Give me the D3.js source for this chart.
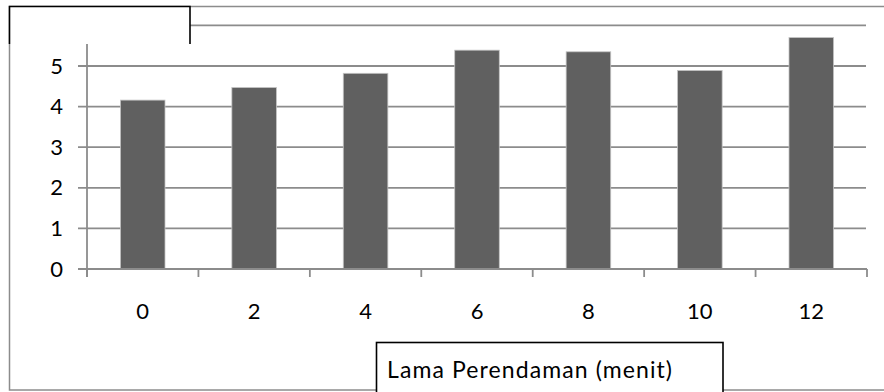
<!DOCTYPE html>
<html>
<head>
<meta charset="utf-8">
<script src="https://cdn.jsdelivr.net/npm/d3@7"></script>
<style>
  html, body { margin: 0; padding: 0; background: #fff; }
  svg { display: block; }
  text { font-family: Lato, "Open Sans", sans-serif; fill: #000; }
</style>
</head>
<body>
<svg id="chart" width="884" height="392"></svg>
<script>
// Soaking time (minutes) and measured values
const categories = ["0", "2", "4", "6", "8", "10", "12"];
const values = [4.16, 4.47, 4.82, 5.39, 5.35, 4.89, 5.70];
const yTicks = [0, 1, 2, 3, 4, 5, 6];
const xTitle = "Lama Perendaman (menit)";

const svg = d3.select("#chart");
const W = 884, H = 392;

// plot frame
const plot = { left: 87, right: 867, top: 25.4, bottom: 269 };

const y = d3.scaleLinear().domain([0, 6]).range([plot.bottom, plot.top]);
const xSlot = d3.scaleBand().domain(categories).range([plot.left, plot.right]).padding(0);

// outer chart border
svg.append("rect")
  .attr("x", 9.5).attr("y", 6.5)
  .attr("width", W).attr("height", 383.5)
  .attr("fill", "#fff")
  .attr("stroke", "#8c8c8c").attr("stroke-width", 1.5);

// horizontal gridlines (with the small left tick)
svg.append("g").selectAll("line")
  .data(yTicks.filter(d => d > 0))
  .join("line")
  .attr("x1", plot.left - 9).attr("x2", plot.right - 1)
  .attr("y1", d => y(d)).attr("y2", d => y(d))
  .attr("stroke", "#8c8c8c").attr("stroke-width", 1.8);

// bars
svg.append("g").selectAll("rect")
  .data(values)
  .join("rect")
  .attr("x", (d, i) => xSlot(categories[i]) + xSlot.bandwidth() * 0.3)
  .attr("width", xSlot.bandwidth() * 0.4)
  .attr("y", d => y(d))
  .attr("height", d => y(0) - y(d))
  .attr("fill", "#606060")
  .attr("stroke", "#c4c4c4").attr("stroke-width", 0.8);

// y axis: line, ticks, labels
const yAxis = svg.append("g")
  .attr("transform", `translate(${plot.left},0)`)
  .call(d3.axisLeft(y).tickValues(yTicks).tickSize(0).tickPadding(24).tickFormat(d3.format("d")));
yAxis.select(".domain").remove();
yAxis.selectAll("text").style("font-size", "22px").style("font-family", "Lato, sans-serif");

svg.append("line")
  .attr("x1", plot.left).attr("x2", plot.left)
  .attr("y1", y(6)).attr("y2", y(0) + 8)
  .attr("stroke", "#8c8c8c").attr("stroke-width", 1.8);
svg.append("line")
  .attr("x1", plot.left - 9).attr("x2", plot.right)
  .attr("y1", y(0)).attr("y2", y(0))
  .attr("stroke", "#8c8c8c").attr("stroke-width", 1.8);

// x axis: ticks at slot boundaries, labels at slot centres
const bounds = categories.map(c => xSlot(c)).concat([plot.right]);
svg.append("g").selectAll("line")
  .data(bounds)
  .join("line")
  .attr("x1", d => d).attr("x2", d => d)
  .attr("y1", y(0)).attr("y2", y(0) + 8)
  .attr("stroke", "#8c8c8c").attr("stroke-width", 1.8);

const xAxis = svg.append("g")
  .attr("transform", `translate(0,${plot.bottom})`)
  .call(d3.axisBottom(xSlot).tickSize(0).tickPadding(34.4));
xAxis.select(".domain").remove();
xAxis.selectAll("text").style("font-size", "22px").style("font-family", "Lato, sans-serif");

// top-left overlay box
svg.append("rect")
  .attr("x", 9.5).attr("y", 6.5).attr("width", 180.5).attr("height", 37.5)
  .attr("fill", "#fff");
svg.append("path")
  .attr("d", "M9.5,44 V6.5 H190 V44")
  .attr("fill", "none").attr("stroke", "#000").attr("stroke-width", 1.6);

// axis title box
svg.append("rect")
  .attr("x", 376.5).attr("y", 342.5).attr("width", 346.5).attr("height", 70)
  .attr("fill", "#fff").attr("stroke", "#000").attr("stroke-width", 1.6);
svg.append("text")
  .attr("x", 387).attr("y", 378)
  .attr("textLength", 285)
  .attr("lengthAdjust", "spacing")
  .style("font-size", "23px")
  .text(xTitle);
</script>
</body>
</html>
